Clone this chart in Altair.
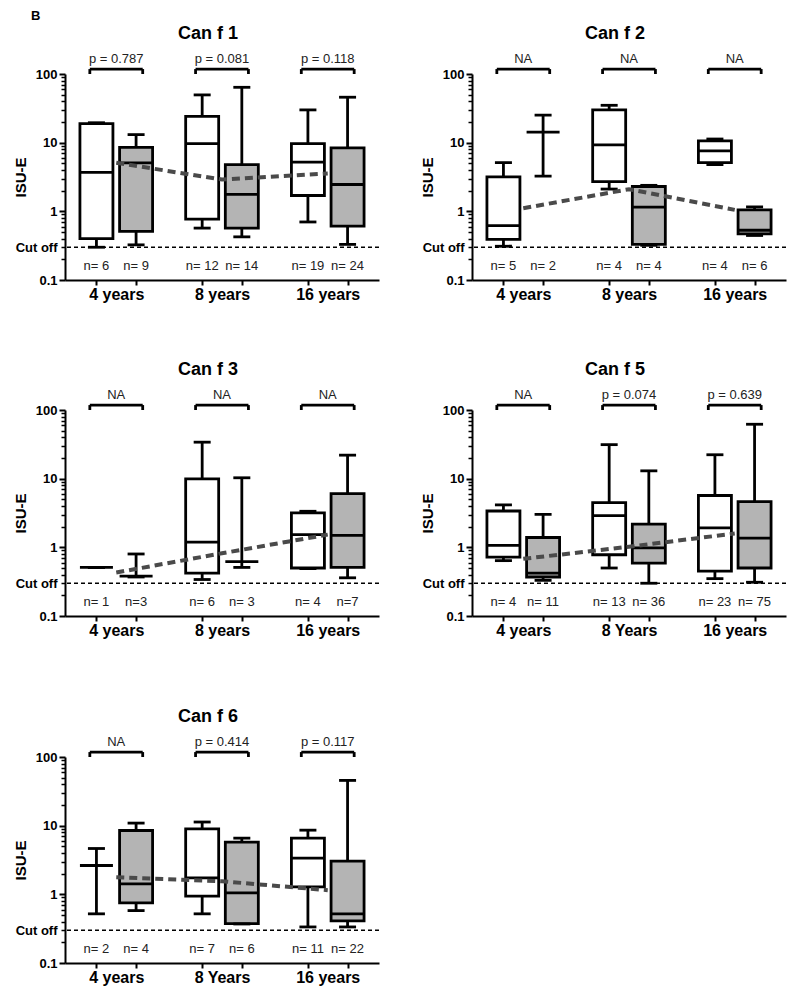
import json
import altair as alt
import pandas as pd

# ---------------- data ----------------
PANEL_TITLES = ["Can f 1", "Can f 2", "Can f 3", "Can f 5", "Can f 6"]
AGE_LABELS = [
    ["4 years", "8 years", "16 years"],
    ["4 years", "8 years", "16 years"],
    ["4 years", "8 years", "16 years"],
    ["4 years", "8 Years", "16 years"],
    ["4 years", "8 Years", "16 years"],
]
# box order: 4y white, 4y grey, 8y white, 8y grey, 16y white, 16y grey
WMIN = [
    [0.30, 0.325, 0.57, 0.425, 0.70, 0.33],
    [0.31, 3.25, 2.11, 0.32, 4.79, 0.445],
    [0.51, 0.37, 0.34, 0.51, 0.49, 0.36],
    [0.64, 0.33, 0.50, 0.30, 0.35, 0.31],
    [0.52, 0.58, 0.52, 0.37, 0.335, 0.335],
]
Q1 = [
    [0.40, 0.51, 0.77, 0.57, 1.7, 0.61],
    [0.39, None, 2.7, 0.33, 5.12, 0.47],
    [None, None, 0.42, None, 0.50, 0.51],
    [0.72, 0.37, 0.78, 0.59, 0.45, 0.50],
    [None, 0.75, 0.94, 0.375, 1.28, 0.41],
]
MEDIAN = [
    [3.7, 5.07, 9.7, 1.76, 5.2, 2.46],
    [0.62, 14.2, 9.3, 1.15, 7.6, 0.53],
    [0.51, 0.38, 1.19, 0.62, 1.53, 1.49],
    [1.07, 0.42, 2.89, 0.98, 1.92, 1.36],
    [2.63, 1.42, 1.74, 1.05, 3.36, 0.52],
]
Q3 = [
    [19.0, 8.55, 24.1, 4.8, 9.7, 8.4],
    [3.18, None, 30.0, 2.3, 10.6, 1.05],
    [None, None, 9.9, None, 3.17, 6.07],
    [3.38, 1.39, 4.49, 2.18, 5.69, 4.64],
    [None, 8.5, 9.0, 5.75, 6.58, 3.04],
]
WMAX = [
    [19.5, 13.1, 49.6, 64.0, 30.0, 45.9],
    [5.12, 25.1, 35.0, 2.39, 11.3, 1.16],
    [0.51, 0.80, 34.0, 10.3, 3.35, 22.0],
    [4.15, 3.02, 31.3, 13.0, 22.3, 62.0],
    [4.65, 10.9, 11.3, 6.58, 8.6, 45.6],
]
N_LABELS = [
    ["n= 6", "n= 9", "n= 12", "n= 14", "n= 19", "n= 24"],
    ["n= 5", "n= 2", "n= 4", "n= 4", "n= 4", "n= 6"],
    ["n= 1", "n=3", "n= 6", "n= 3", "n= 4", "n=7"],
    ["n= 4", "n= 11", "n= 13", "n= 36", "n= 23", "n= 75"],
    ["n= 2", "n= 4", "n= 7", "n= 6", "n= 11", "n= 22"],
]
TREND = [
    [5.1, 2.9, 3.55],
    [1.11, 2.1, 1.05],
    [0.43, 0.82, 1.53],
    [0.68, 1.02, 1.59],
    [1.78, 1.55, 1.15],
]
P_TEXT = [
    ["p = 0.787", "p = 0.081", "p = 0.118"],
    ["NA", "NA", "NA"],
    ["NA", "NA", "NA"],
    ["NA", "p = 0.074", "p = 0.639"],
    ["NA", "p = 0.414", "p = 0.117"],
]
CUTOFF = [0.3]
MAJOR_TICKS = [0.1, 1, 10, 100]
MAJOR_LABELS = ["0.1", "1", "10", "100"]
MINOR_TICKS = [0.2, 0.3, 0.4, 0.5, 0.6, 0.7, 0.8, 0.9,
               2, 3, 4, 5, 6, 7, 8, 9,
               20, 30, 40, 50, 60, 70, 80, 90]

# ---------------- layout / style ----------------
FONT = "Liberation Sans"
W, H = 314, 206
GREY = "#b4b4b4"
LW = 2.8
BRACKET_Y = 118      # bracket drawn just above the 100 line
N_Y = 0.16           # level of the n= labels
POS = [g * 8 + m * 3 for g in range(3) for m in range(2)]   # box centres
CENTERS = [g * 8 + 1.5 for g in range(3)]                    # group centres

xscale = alt.Scale(domain=[-2, 21], nice=False, zero=False)
yscale = alt.Scale(type="log", domain=[0.1, 100], nice=False)


def X(f, axis=None):
    return alt.X(f"{f}:Q", scale=xscale, axis=axis, title=None)


def Y(f, axis=None, title=None):
    return alt.Y(f"{f}:Q", scale=yscale, axis=axis, title=title)


def panel(i):
    df = pd.DataFrame({
        "pos": POS,
        "fill": ["#ffffff", GREY] * 3,
        "lo": WMIN[i], "q1": Q1[i], "med": MEDIAN[i], "q3": Q3[i], "hi": WMAX[i],
        "nlab": N_LABELS[i],
    })
    df["ny"] = N_Y
    g = pd.DataFrame({"c": CENTERS, "trend": TREND[i], "p": P_TEXT[i]})
    g["l"] = g["c"] - 2
    g["r"] = g["c"] + 2
    g["top"] = BRACKET_Y
    g["base"] = 100
    cut = pd.DataFrame({"cut": CUTOFF})

    age_expr = "%s[indexof(%s, datum.value)]" % (json.dumps(AGE_LABELS[i]), json.dumps(CENTERS))
    maj_expr = "%s[indexof(%s, datum.value)]" % (json.dumps(MAJOR_LABELS), json.dumps(MAJOR_TICKS))
    min_expr = "datum.value == %s ? 'Cut off' : ''" % CUTOFF[0]

    x_tick_axis = alt.Axis(values=POS, labels=False, tickSize=5, tickWidth=2,
                           tickColor="black", domainColor="black", domainWidth=2,
                           grid=False, orient="bottom")
    x_lab_axis = alt.Axis(values=CENTERS, labelExpr=age_expr, ticks=False, domain=False,
                          labelPadding=6, labelFontSize=16, labelFontWeight="bold",
                          labelColor="black", grid=False, orient="bottom", labelFont=FONT)
    y_major = alt.Axis(values=MAJOR_TICKS, labelExpr=maj_expr, tickSize=6, tickWidth=2,
                       tickColor="black", domainColor="black", domainWidth=2,
                       labelPadding=2, labelFontSize=13, labelFontWeight="bold",
                       labelColor="black", labelFont=FONT, grid=False, orient="left",
                       titleFontSize=15, titleFontWeight="bold", titleColor="black",
                       titleFont=FONT, titleX=-37)
    y_minor = alt.Axis(values=MINOR_TICKS, labelExpr=min_expr, tickSize=4, tickWidth=1.5,
                       tickColor="black", domain=False, labelPadding=4, labelFontSize=13,
                       labelFontWeight="bold", labelColor="black", labelFont=FONT,
                       grid=False, orient="left")

    cut_l = alt.Chart(cut).mark_rule(strokeDash=[4, 3], strokeWidth=1.5, color="black").encode(
        y=Y("cut", axis=y_minor))
    whisk = alt.Chart(df).mark_rule(strokeWidth=LW, color="black").encode(
        x=X("pos", axis=x_tick_axis), y=Y("lo", axis=y_major, title="ISU-E"), y2="hi")
    box = alt.Chart(df).transform_filter("isValid(datum.q1)").mark_bar(
        size=33, stroke="black", strokeWidth=LW, opacity=1).encode(
        x=X("pos"), y=Y("q1"), y2="q3", fill=alt.Fill("fill:N", scale=None))
    med = alt.Chart(df).mark_tick(orient="horizontal", size=33, thickness=LW, color="black",
                                  opacity=1).encode(x=X("pos"), y=Y("med"))
    caps = alt.Chart(df).transform_fold(["lo", "hi"], as_=["k", "v"]).mark_tick(
        orient="horizontal", size=17, thickness=LW, color="black", opacity=1).encode(
        x=X("pos"), y=Y("v"))
    trend = alt.Chart(g).mark_line(strokeDash=[8, 5], strokeWidth=4, color="#4a4a4a").encode(
        x=X("c"), y=Y("trend"))
    br_h = alt.Chart(g).mark_rule(strokeWidth=LW, color="black").encode(
        x=X("l"), x2="r", y=Y("top"))
    br_v = alt.Chart(g).transform_fold(["l", "r"], as_=["k", "v"]).mark_rule(
        strokeWidth=LW, color="black").encode(x=X("v"), y=Y("top"), y2="base")
    ptxt = alt.Chart(g).mark_text(baseline="bottom", dy=-3, fontSize=13, color="#222222",
                                  font=FONT).encode(
        x=X("c", axis=x_lab_axis), y=Y("top"), text="p:N")
    ntxt = alt.Chart(df).mark_text(baseline="middle", fontSize=13, color="#222222",
                                   font=FONT).encode(
        x=X("pos"), y=Y("ny"), text="nlab:N")

    return alt.layer(cut_l, whisk, box, med, caps, trend, br_h, br_v, ptxt, ntxt).resolve_axis(
        x="independent", y="independent").properties(
        width=W, height=H,
        title=alt.TitleParams(PANEL_TITLES[i], fontSize=18, fontWeight="bold", font=FONT,
                              color="black", dx=-14, offset=10))


p = [panel(i) for i in range(5)]
row1 = alt.hconcat(p[0], p[1], spacing=40)
row2 = alt.hconcat(p[2], p[3], spacing=40)
top = alt.vconcat(row1, row2, spacing=59)
chart = alt.vconcat(top, p[4], spacing=70).properties(
    title=alt.TitleParams("B", anchor="start", fontSize=13, fontWeight="bold", font=FONT,
                          color="black", dx=18, dy=-2, offset=0),
    background="white",
    padding={"left": 5, "top": 2, "right": 5, "bottom": 5},
).configure_view(stroke=None)

chart.save("out.html", embed_options={"renderer": "svg", "actions": False})
